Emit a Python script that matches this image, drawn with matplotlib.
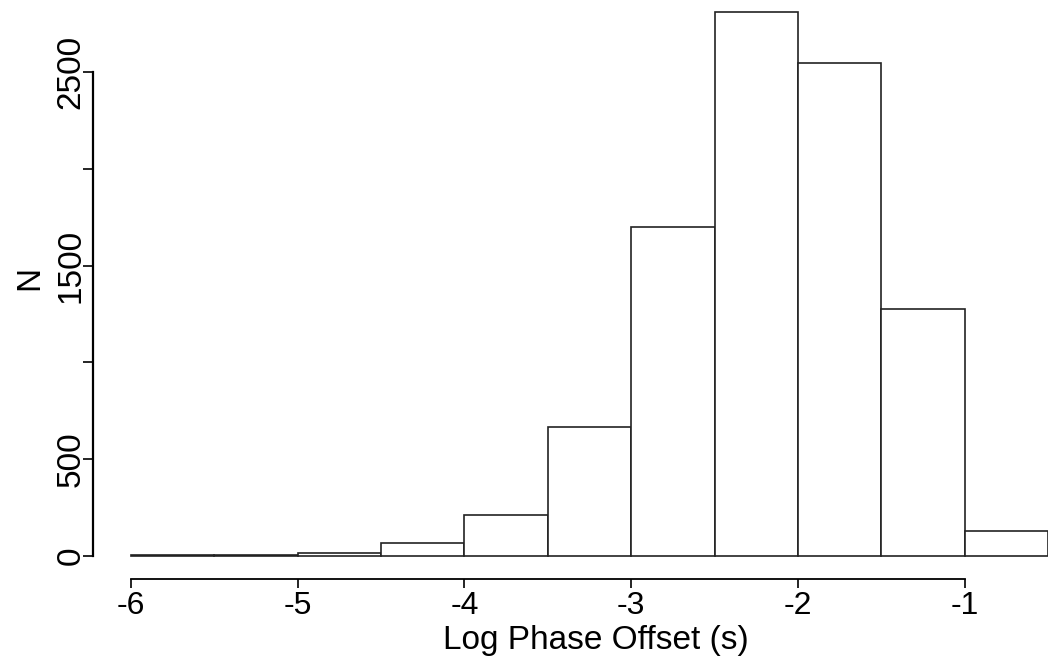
import matplotlib
matplotlib.use('Agg')
import matplotlib.pyplot as plt

# histogram of log phase offsets, bins of 0.5 from -6 to -0.5
bin_left = [-6.0, -5.5, -5.0, -4.5, -4.0, -3.5, -3.0, -2.5, -2.0, -1.5, -1.0]
counts = [3, 4, 17, 65, 213, 666, 1699, 2808, 2546, 1277, 131]
bin_width = 0.5

x_ticks = [-6, -5, -4, -3, -2, -1]
y_ticks = [0, 500, 1000, 1500, 2000, 2500]
y_ticklabels = ['0', '500', '', '1500', '', '2500']

plt.rcParams['font.family'] = ['Liberation Sans', 'DejaVu Sans']

W, H = 1048, 665
fig = plt.figure(figsize=(W / 100, H / 100), dpi=100)
ax = fig.add_axes([131 / W, (H - 556) / H, (W - 131) / W, 556 / H])

ax.bar(bin_left, counts, width=bin_width, align='edge',
       color='white', edgecolor='#222222', linewidth=1.2, clip_on=False)

ax.set_xlim(-6, -0.5)
ax.set_ylim(0, 556 / 0.1936)

for s in ['top', 'right']:
    ax.spines[s].set_visible(False)
ax.spines['left'].set_position(('outward', 27.4))
ax.spines['bottom'].set_position(('outward', 16.6))
ax.spines['left'].set_bounds(0, 2500)
ax.spines['bottom'].set_bounds(-6, -1)
ax.spines['left'].set_linewidth(1.6)
ax.spines['bottom'].set_linewidth(1.3)

ax.set_xticks(x_ticks)
ax.set_xticklabels([str(v) for v in x_ticks])
ax.set_yticks(y_ticks)
ax.set_yticklabels(y_ticklabels, rotation=90, va='center')
ax.tick_params(axis='x', length=6.5, width=1.2, pad=2, labelsize=23)
ax.tick_params(axis='y', length=7.5, width=1.2, pad=-3, labelsize=24)

ax.set_xlabel('Log Phase Offset (s)', fontsize=24, va='top')
ax.xaxis.set_label_coords(0.507, -0.124)
ax.set_ylabel('N', fontsize=24, va='center')
ax.yaxis.set_label_coords(-0.110, 0.5)

fig.savefig('out.png', dpi=100)
